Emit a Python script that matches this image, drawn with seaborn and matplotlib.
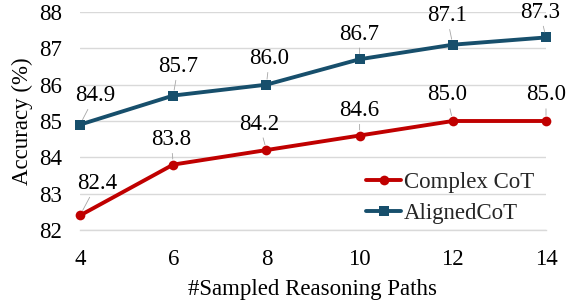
import numpy as np
import pandas as pd
import matplotlib
matplotlib.use("Agg")
import matplotlib.pyplot as plt
import seaborn as sns

paths = [4, 6, 8, 10, 12, 14]
complex_cot = [82.4, 83.8, 84.2, 84.6, 85.0, 85.0]
aligned_cot = [84.9, 85.7, 86.0, 86.7, 87.1, 87.3]
series_names = ["Complex CoT", "AlignedCoT"]
y_ticks = [82, 83, 84, 85, 86, 87, 88]

RED = "#C00000"
BLUE = "#174F6C"
GRID = "#D9D9D9"
FS = 16.5

# label offsets in pixels (dx, dy) for the value labels
complex_offsets = [(17, 32), (-2, 25), (-7, 26), (0, 25), (-6, 26), (0, 26)]
aligned_offsets = [(15, 29), (5, 29), (3, 26), (0, 25), (-6, 29), (-6, 25)]

sns.set_theme(style="white")
plt.rcParams["font.family"] = ["Liberation Serif", "DejaVu Serif"]

df = pd.DataFrame({
    "paths": paths * 2,
    "acc": complex_cot + aligned_cot,
    "method": [series_names[0]] * len(paths) + [series_names[1]] * len(paths),
})

fig = plt.figure(figsize=(5.67, 3.04), dpi=100)
ax = fig.add_axes([80 / 567, 1 - 230 / 304, 466 / 567, 218 / 304])

sns.lineplot(data=df, x="paths", y="acc", hue="method", style="method",
             palette={series_names[0]: RED, series_names[1]: BLUE},
             markers={series_names[0]: "o", series_names[1]: "s"},
             dashes=False, linewidth=2.8, markersize=7, markeredgewidth=0,
             ax=ax, clip_on=False)

for vals, offs in [(complex_cot, complex_offsets), (aligned_cot, aligned_offsets)]:
    for x, v, (dx, dy) in zip(paths, vals, offs):
        ax.annotate(f"{v:.1f}", xy=(x, v), xytext=(dx, dy), textcoords="offset pixels",
                    ha="center", va="center", fontsize=FS, color="black",
                    arrowprops=dict(arrowstyle="-", color="#A6A6A6", lw=0.6,
                                    shrinkA=0, shrinkB=4))

ax.set_xlim(4, 14)
ax.set_ylim(82, 88)
ax.set_xticks(paths)
ax.set_yticks(y_ticks)
ax.grid(axis="y", color=GRID, linewidth=1)
ax.set_axisbelow(True)
for s in ["top", "right", "left"]:
    ax.spines[s].set_visible(False)
ax.spines["bottom"].set_color(GRID)
ax.spines["bottom"].set_linewidth(1)
ax.tick_params(axis="x", length=4, color=GRID, width=1, pad=10, labelsize=FS, labelcolor="black")
ax.tick_params(axis="y", length=0, pad=13, labelsize=FS, labelcolor="black")
ax.set_xlabel("#Sampled Reasoning Paths", fontsize=FS, color="black", labelpad=6)
ax.set_ylabel("Accuracy (%)", fontsize=FS, color="black", labelpad=4)

ax.legend(loc="lower right", bbox_to_anchor=(0.995, -0.015), frameon=False, fontsize=FS,
          handlelength=1.5, handletextpad=0.15, labelspacing=0.45, borderaxespad=0)

fig.savefig("out.png", dpi=100)
